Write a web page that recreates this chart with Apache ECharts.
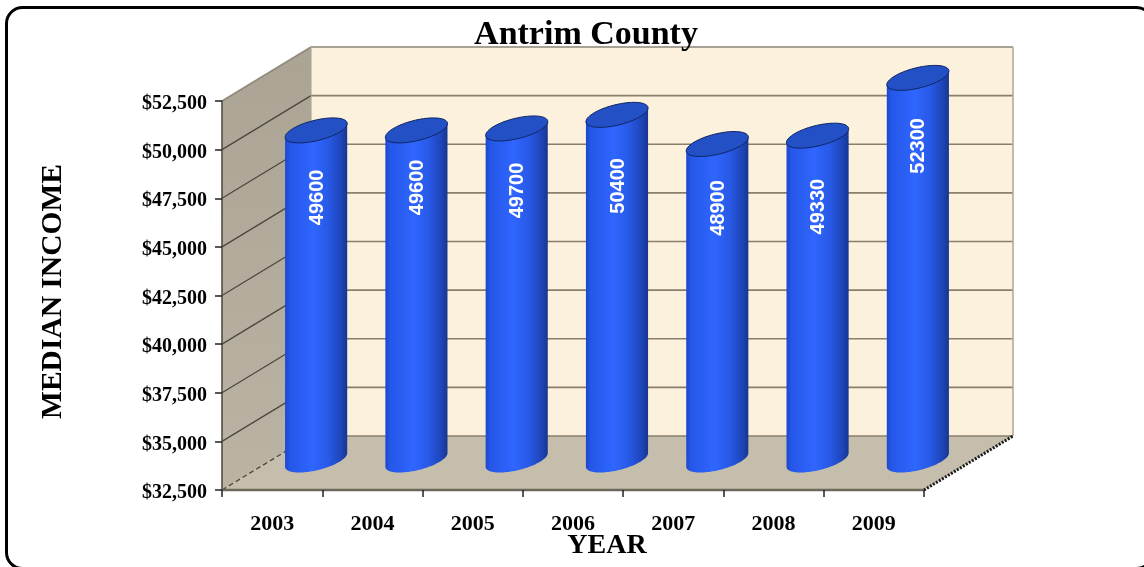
<!DOCTYPE html>
<html><head><meta charset="utf-8">
<style>html,body{margin:0;padding:0;background:#fff;overflow:hidden}#c{width:1144px;height:567px}</style>
<script src="https://cdn.jsdelivr.net/npm/echarts@6/dist/echarts.min.js"></script>
</head><body><div id="c"></div>
<script>
const titleText = 'Antrim County';
const years = ['2003','2004','2005','2006','2007','2008','2009'];
const medianIncome = [49600,49600,49700,50400,48900,49330,52300];
const axisMin = 32500, axisMax = 52500, axisStep = 2500;
const yTicks = [32500,35000,37500,40000,42500,45000,47500,50000,52500];

// layout only
const labelDrop = [67,57,62,71,64,71,68];
const DX = 89, DY = -54;           // full depth of the box
const SERIF = '"Liberation Serif","Times New Roman",serif';
const HW = 26, EDX = 17, EDY = 12.5;

function ePoint(cx, cy, t) {
  return [cx + HW * Math.cos(t) + EDX * Math.sin(t), cy - EDY * Math.sin(t)];
}
function ellipse(cx, cy, from, to, n) {
  const pts = [];
  for (let i = 0; i <= n; i++) pts.push(ePoint(cx, cy, from + (to - from) * i / n));
  return pts;
}
const A0 = Math.atan2(EDX, HW);     // angle of right-most point of the ellipse

function renderWalls(params, api) {
  const cs = params.coordSys, L = cs.x, R = cs.x + cs.width;
  const B = api.coord([0, axisMin])[1], T = api.coord([0, axisMax])[1];
  const kids = [];
  const poly = (points, fill, z2) => kids.push({type:'polygon', z2:z2||0, shape:{points}, style:{fill}});
  const line = (x1,y1,x2,y2,stroke,lineWidth,lineDash) => kids.push({type:'line', z2:3,
    shape:{x1,y1,x2,y2}, style:{stroke,lineWidth,lineDash:lineDash||null,fill:null}});
  // back wall
  poly([[L+DX,T+DY],[R+DX,T+DY],[R+DX,B+DY],[L+DX,B+DY]], '#FCF1DC');
  // side wall
  poly([[L,T],[L+DX,T+DY],[L+DX,B+DY],[L,B]], new echarts.graphic.LinearGradient(0,0,0,1,[
    {offset:0,color:'#ABA494'},{offset:1,color:'#BBB4A4'}]));
  // floor
  poly([[L,B],[L+DX,B+DY],[R+DX,B+DY],[R,B]], '#C6BEAC');
  yTicks.forEach(v => {
    const y = api.coord([0, v])[1];
    if (v === axisMin) return;
    if (v === axisMax) {
      line(L+DX,y+DY,R+DX,y+DY,'#A8A296',2);
      line(L,y,L+DX,y+DY,'#8f897c',1.5);
      return;
    }
    line(L+DX,y+DY,R+DX,y+DY,'#8A7F6C',1.6);
    line(L,y,L+DX,y+DY,'#4C463B',1.2);
  });
  line(R+DX,T+DY,R+DX,B+DY,'#B0AAA0',1.6);
  line(L+DX,T+DY,L+DX,B+DY,'#A8A090',1);
  line(L+DX,B+DY,R+DX,B+DY,'#8A7F6C',1.6);
  line(L,B,L+DX,B+DY,'#4C463B',1.3,[5,3]);
  line(R,B,R+DX,B+DY,'#1a1a1a',3,[2,1.5]);
  line(L,B,R,B,'#6F675A',2.5);
  return {type:'group', children:kids};
}

function renderBar(params, api) {
  const i = params.dataIndex;
  const top = api.coord([api.value(0), api.value(1)]);
  const base = api.coord([api.value(0), axisMin]);
  const cx = top[0] + DX/2 - 0.5;
  const ty = top[1] + DY/2;
  const by = base[1] + DY/2 - 3;
  const topRing = ellipse(cx, ty, 0, Math.PI*2, 72);
  const front = ellipse(cx, by, A0 - Math.PI, A0, 48);   // under side: left -> right
  const rightTop = ePoint(cx, ty, A0);
  const leftTop  = ePoint(cx, ty, A0 + Math.PI);
  const body = [leftTop].concat(front).concat([rightTop]);
  const grad = new echarts.graphic.LinearGradient(0,0,1,0,[
    {offset:0,color:'#1C47CF'},
    {offset:0.08,color:'#2557E8'},
    {offset:0.45,color:'#2F66FF'},
    {offset:0.7,color:'#2859E6'},
    {offset:0.9,color:'#1E45B8'},
    {offset:1,color:'#17368F'}]);
  return {type:'group', children:[
    {type:'polygon', shape:{points:body}, style:{fill:grad}},
    {type:'polygon', z2:1, shape:{points:topRing},
      style:{fill:'#2450C6', stroke:'#0E2560', lineWidth:1}},
    {type:'text', z2:2, x:cx+1, y:ty+labelDrop[i], rotation:Math.PI/2,
      style:{text:String(api.value(1)), fill:'#fff', align:'center', verticalAlign:'middle',
        font:'bold 20px "Liberation Sans",Arial,sans-serif'}}
  ]};
}

const chart = echarts.init(document.getElementById('c'), null, {renderer:'canvas'});
chart.setOption({
  animation:false,
  backgroundColor:'#fff',
  title:{text:titleText, left:581, top:13, textAlign:'center',
    textStyle:{fontFamily:SERIF,fontWeight:'bold',fontSize:34,color:'#000'}},
  graphic:[{type:'rect', z:-1, silent:true,
    shape:{x:6.5,y:7.5,width:1146,height:561,r:16},
    style:{fill:'#fff',stroke:'#000',lineWidth:3}}],
  grid:{left:222,top:101,width:702,height:389,containLabel:false,outerBoundsMode:'none'},
  xAxis:{type:'category',data:years,boundaryGap:true,z:5,
    name:'YEAR',nameLocation:'middle',nameGap:42,nameMoveOverlap:false,
    nameTextStyle:{fontFamily:SERIF,fontWeight:'bold',fontSize:28,color:'#000',padding:[0,0,0,68]},
    axisLine:{show:false},
    axisTick:{show:true,length:7,alignWithLabel:false,lineStyle:{color:'#222',width:1.5}},
    axisLabel:{margin:23,fontFamily:SERIF,fontWeight:'bold',fontSize:22,color:'#000'}},
  yAxis:{type:'value',min:axisMin,max:axisMax,interval:axisStep,z:5,
    name:'MEDIAN INCOME',nameLocation:'middle',nameGap:154,nameRotate:90,nameMoveOverlap:false,
    nameTextStyle:{fontFamily:SERIF,fontWeight:'bold',fontSize:29.5,color:'#000',padding:[0,0,0,8]},
    axisLine:{show:true,lineStyle:{color:'#4A453C',width:1.5}},
    axisTick:{show:true,length:7,lineStyle:{color:'#222',width:1.5}},
    splitLine:{show:false},
    axisLabel:{margin:15,fontFamily:SERIF,fontWeight:'bold',fontSize:20,color:'#000',
      verticalAlign:'top',lineHeight:6,
      formatter:v=>'$'+v.toLocaleString('en-US')}},
  series:[
    {type:'custom',z:1,silent:true,clip:false,data:[[0,axisMin]],renderItem:renderWalls,encode:{x:0,y:1}},
    {type:'custom',z:2,silent:true,clip:false,
      data:years.map((y,i)=>[i,medianIncome[i]]),renderItem:renderBar,encode:{x:0,y:1}}
  ]
});
</script></body></html>
